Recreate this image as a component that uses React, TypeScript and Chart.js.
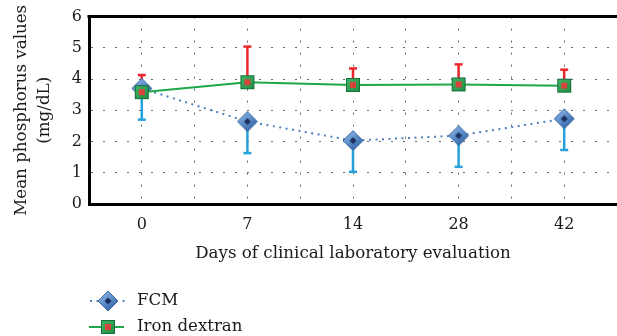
import React, { useEffect, useRef } from "react";
import { Chart, registerables } from "chart.js";

Chart.register(...registerables);

const days = ["0", "7", "14", "28", "42"];
const fcmMeans = [3.7, 2.64, 2.03, 2.19, 2.73];
const fcmErr = [1.0, 1.01, 1.0, 1.0, 1.0];
const ironMeans = [3.58, 3.9, 3.81, 3.83, 3.79];
const ironErr = [0.55, 1.14, 0.53, 0.64, 0.51];
const yTicks = [0, 1, 2, 3, 4, 5, 6];
const seriesNames = ["FCM", "Iron dextran"];

const FONT = "'DejaVu Serif', serif";
const FS = 16;
const FT = 16.7;

function makeDiamond(): HTMLCanvasElement {
  const c = document.createElement("canvas");
  c.width = 22;
  c.height = 22;
  const g = c.getContext("2d")!;
  const grad = g.createLinearGradient(4, 2, 18, 20);
  grad.addColorStop(0, "#8fb4e3");
  grad.addColorStop(0.5, "#5a8cc8");
  grad.addColorStop(1, "#2f5f9c");
  g.beginPath();
  g.moveTo(11, 1);
  g.lineTo(21, 11);
  g.lineTo(11, 21);
  g.lineTo(1, 11);
  g.closePath();
  g.fillStyle = grad;
  g.fill();
  g.strokeStyle = "#3b6aa5";
  g.lineWidth = 1;
  g.stroke();
  g.beginPath();
  g.moveTo(11, 7.5);
  g.lineTo(14.5, 11);
  g.lineTo(11, 14.5);
  g.lineTo(7.5, 11);
  g.closePath();
  g.fillStyle = "#1b2f5e";
  g.fill();
  return c;
}

function makeSquare(): HTMLCanvasElement {
  const c = document.createElement("canvas");
  c.width = 16;
  c.height = 16;
  const g = c.getContext("2d")!;
  const grad = g.createLinearGradient(0, 0, 16, 16);
  grad.addColorStop(0, "#45b868");
  grad.addColorStop(1, "#1c8a42");
  g.fillStyle = grad;
  g.fillRect(1, 1, 14, 14);
  g.strokeStyle = "#16703a";
  g.lineWidth = 1;
  g.strokeRect(1.5, 1.5, 13, 13);
  g.fillStyle = "#d8443c";
  g.fillRect(5, 5, 6, 6);
  return c;
}

export default function App() {
  const ref = useRef<HTMLCanvasElement>(null);

  useEffect(() => {
    const diamond = makeDiamond();
    const square = makeSquare();

    const errorBars = {
      id: "errorBars",
      beforeDatasetsDraw(chart: any) {
        const { ctx, scales } = chart;
        const x = scales.x;
        const y = scales.y;
        const draw = (means: number[], errs: number[], dir: number, color: string) => {
          ctx.save();
          ctx.strokeStyle = color;
          ctx.lineWidth = 2.5;
          means.forEach((m, i) => {
            const px = x.getPixelForValue(i);
            const p0 = y.getPixelForValue(m);
            const p1 = y.getPixelForValue(m + dir * errs[i]);
            ctx.beginPath();
            ctx.moveTo(px, p0);
            ctx.lineTo(px, p1);
            ctx.stroke();
            ctx.beginPath();
            ctx.moveTo(px - 4, p1);
            ctx.lineTo(px + 4, p1);
            ctx.stroke();
          });
          ctx.restore();
        };
        draw(fcmMeans, fcmErr, -1, "#27a1dc");
        draw(ironMeans, ironErr, 1, "#e8262b");
      },
    };

    const framePlugin = {
      id: "frameAndLegend",
      afterDraw(chart: any) {
        const { ctx, chartArea } = chart;
        ctx.save();
        ctx.strokeStyle = "#000";
        ctx.lineWidth = 3;
        ctx.beginPath();
        ctx.moveTo(chartArea.left - 1.5, chartArea.top);
        ctx.lineTo(chartArea.right, chartArea.top);
        ctx.stroke();

        const rows = [
          { y: 301, dash: [2, 4.5], color: "#4f81bd", img: diamond, x0: 90, x1: 125 },
          { y: 327, dash: [], color: "#1fa84a", img: square, x0: 89, x1: 124 },
        ];
        rows.forEach((r, i) => {
          ctx.beginPath();
          ctx.setLineDash(r.dash);
          ctx.strokeStyle = r.color;
          ctx.lineWidth = 2;
          ctx.moveTo(r.x0, r.y);
          ctx.lineTo(r.x1, r.y);
          ctx.stroke();
          ctx.setLineDash([]);
          ctx.drawImage(r.img, 108 - r.img.width / 2, r.y - r.img.height / 2);
          ctx.fillStyle = "#1a1a1a";
          ctx.font = `16.6px ${FONT}`;
          ctx.textBaseline = "middle";
          ctx.textAlign = "left";
          ctx.fillText(seriesNames[i], 137, r.y);
        });
        ctx.restore();
      },
    };

    const chart = new Chart(ref.current!, {
      type: "line",
      data: {
        datasets: [
          {
            label: seriesNames[0],
            data: fcmMeans.map((v, i) => ({ x: i, y: v })),
            borderColor: "#4f81bd",
            borderWidth: 2,
            borderDash: [2, 4.5],
            pointStyle: diamond as any,
            pointRadius: 10,
            order: 2,
          },
          {
            label: seriesNames[1],
            data: ironMeans.map((v, i) => ({ x: i, y: v })),
            borderColor: "#1fa84a",
            borderWidth: 2,
            pointStyle: square as any,
            pointRadius: 8,
            order: 1,
          },
        ],
      },
      options: {
        responsive: false,
        animation: false,
        events: [],
        layout: { autoPadding: false, padding: { left: 0, right: 0, top: 15, bottom: 66 } },
        plugins: { legend: { display: false }, tooltip: { enabled: false } },
        scales: {
          x: {
            type: "linear",
            min: -0.5,
            max: days.length - 0.5,
            afterBuildTicks(scale: any) {
              const t = [];
              for (let k = 0; k <= days.length * 2; k++) t.push({ value: -0.5 + k * 0.5 });
              scale.ticks = t;
            },
            afterFit(scale: any) {
              scale.height = 66;
              scale.paddingLeft = 0;
              scale.paddingRight = 0;
            },
            ticks: {
              autoSkip: false,
              maxRotation: 0,
              padding: 11,
              color: "#1a1a1a",
              font: { family: FONT, size: FS },
              callback: (v: any) => {
                const n = Number(v);
                return Math.abs(n - Math.round(n)) < 1e-6 ? days[Math.round(n)] ?? "" : "";
              },
            },
            grid: { color: "#666", lineWidth: 1, drawTicks: false },
            border: { display: true, color: "#000", width: 3, dash: [2, 10] },
            title: {
              display: true,
              text: "Days of clinical laboratory evaluation",
              color: "#1a1a1a",
              font: { family: FONT, size: FT },
              padding: { top: 0, bottom: 6 },
            },
          },
          y: {
            min: 0,
            max: 6,
            afterBuildTicks(scale: any) {
              scale.ticks = yTicks.map((v) => ({ value: v }));
            },
            afterFit(scale: any) {
              scale.width = 89;
            },
            ticks: {
              padding: 7,
              color: "#1a1a1a",
              font: { family: FONT, size: FS },
            },
            grid: { color: "#666", lineWidth: 1, drawTicks: false },
            border: { display: true, color: "#000", width: 3, dash: [2, 10] },
            title: {
              display: true,
              text: ["Mean phosphorus values", "(mg/dL)"],
              color: "#1a1a1a",
              font: { family: FONT, size: FT, lineHeight: 1.4 },
              padding: { top: 10, bottom: 0 },
            },
          },
        },
      },
      plugins: [errorBars, framePlugin],
    });
    return () => chart.destroy();
  }, []);

  return (
    <div style={{ position: "absolute", left: 0, top: 0, width: 617, height: 336, background: "#fff" }}>
      <canvas ref={ref} width={617} height={336} style={{ width: 617, height: 336, display: "block" }} />
    </div>
  );
}
